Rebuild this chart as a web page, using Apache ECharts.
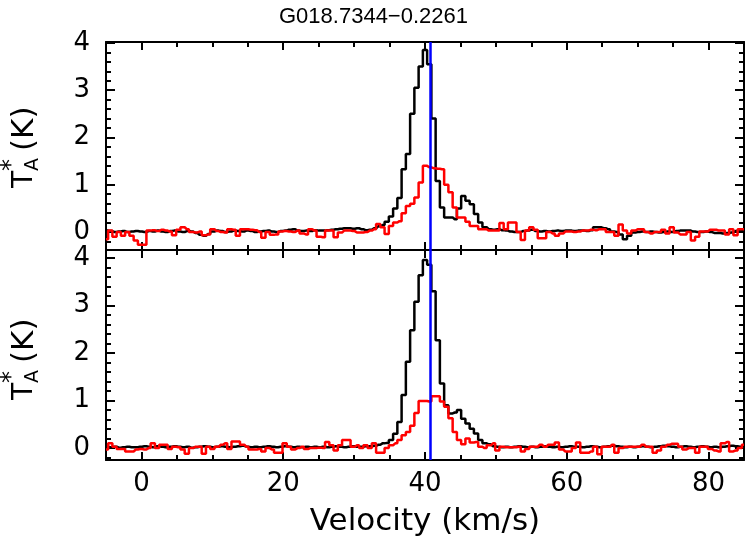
<!DOCTYPE html>
<html>
<head>
<meta charset="utf-8">
<script src="https://cdn.jsdelivr.net/npm/echarts@6/dist/echarts.min.js"></script>
<style>html,body{margin:0;padding:0;background:#fff}#c{width:747px;height:546px}</style>
</head>
<body>
<div id="c"></div>
<script>
// ---- data ----
const chartTitle = 'G018.7344\u22120.2261';
const chanStart = -5.0;   // km/s, first channel
const chanWidth = 0.6;    // km/s
const vlsr = 40.8;        // blue marker line

const topBlack = [
 0.03,0.02,0.00,0.01,0.02,0.00,0.01,0.02,0.01,0.00,
 0.02,0.01,0.03,0.01,0.00,0.02,0.03,0.01,0.00,0.02,
 0.01,-0.02,-0.06,-0.08,-0.04,0.01,0.03,0.02,0.00,0.01,
 0.03,0.02,0.01,0.03,0.02,0.00,0.01,0.02,0.03,0.01,
 0.00,0.02,0.03,0.05,0.06,0.03,0.02,0.03,0.02,0.04,
 0.03,0.03,0.04,0.05,0.06,0.07,0.08,0.08,0.07,0.08,
 0.06,0.04,0.05,0.08,0.12,0.15,0.22,0.33,0.50,0.72,
 1.33,1.65,2.50,3.05,3.50,3.85,3.55,2.40,1.08,0.52,
 0.31,0.31,0.27,0.50,0.76,0.66,0.59,0.38,0.20,0.10,
 0.06,0.05,0.06,0.04,0.03,0.01,0.00,0.00,0.02,0.03,
 0.05,0.02,0.01,0.02,0.01,0.02,0.03,0.02,0.03,0.03,
 0.02,0.03,0.03,0.02,0.04,0.10,0.10,0.08,0.06,0.01,
 0.00,-0.05,-0.15,-0.08,-0.01,0.00,0.01,0.00,0.01,0.00,
 -0.01,0.00,0.01,0.00,0.02,0.03,0.03,0.03,0.01,0.00,
 0.00,0.01,0.00,-0.02,-0.02,-0.03,-0.02,-0.01,0.02,0.03,0.03
];
const topRed = [
 -0.15,0.03,-0.10,0.00,-0.08,0.00,-0.08,-0.18,-0.27,-0.27,
 0.03,0.04,0.02,0.05,0.03,0.01,-0.07,0.05,0.10,0.06,
 0.00,-0.01,0.01,-0.07,-0.05,0.06,0.02,0.00,-0.01,0.06,
 0.05,-0.08,0.06,0.06,0.05,0.04,0.00,-0.12,0.00,-0.06,
 -0.05,0.01,0.02,0.01,0.00,0.03,-0.03,-0.05,0.06,0.03,
 -0.10,-0.11,0.03,0.03,-0.11,-0.01,0.03,0.03,0.02,-0.01,
 -0.01,0.00,0.03,0.06,0.17,0.10,-0.04,0.13,0.20,0.23,
 0.40,0.55,0.60,0.73,1.05,1.40,1.37,1.35,1.34,1.33,
 1.00,0.84,0.52,0.31,0.31,0.22,0.13,0.13,0.06,0.06,
 0.03,0.03,0.03,0.19,0.06,0.20,0.20,0.00,-0.17,0.03,
 0.10,0.05,-0.13,-0.13,0.00,-0.03,-0.08,-0.03,0.01,0.01,
 0.00,0.01,0.03,0.03,0.05,0.04,0.06,0.06,0.00,0.00,
 -0.08,0.16,0.03,-0.03,0.03,0.06,0.06,0.00,-0.03,0.00,
 0.00,0.05,-0.03,0.10,-0.01,-0.05,-0.05,0.00,-0.18,-0.10,
 0.01,0.01,0.05,0.05,0.03,0.03,-0.05,0.06,-0.07,0.06,0.06
];
const botBlack = [
 0.03,0.02,0.03,0.01,0.02,0.03,0.02,0.02,0.03,0.04,
 0.03,0.02,0.04,0.03,0.02,0.03,0.04,0.03,0.02,0.03,
 0.01,0.02,0.03,0.04,0.03,0.02,0.03,0.04,0.03,0.02,
 0.03,0.04,0.05,0.03,0.02,0.03,0.02,0.03,0.04,0.03,
 0.02,0.03,0.04,0.03,0.02,0.03,0.02,0.03,0.02,0.03,
 0.02,0.03,0.02,0.03,0.04,0.03,0.02,0.03,0.04,0.03,
 0.03,0.04,0.04,0.05,0.07,0.10,0.11,0.17,0.30,0.55,
 1.12,1.82,2.48,3.08,3.64,3.96,3.86,3.30,2.27,1.36,
 0.90,0.73,0.75,0.80,0.62,0.52,0.41,0.31,0.17,0.10,
 0.08,0.04,0.03,0.02,0.03,0.02,0.03,0.04,0.03,0.02,
 0.03,0.02,0.03,0.04,0.03,0.02,0.03,0.02,0.03,0.04,
 0.03,0.03,0.02,0.03,0.04,0.03,0.02,0.03,0.04,0.05,
 0.04,0.03,0.02,0.03,0.02,0.03,0.04,0.03,0.02,0.03,
 0.04,0.05,0.04,0.03,0.02,0.03,0.04,0.03,0.02,0.03,
 0.04,0.03,0.02,0.03,0.02,0.03,0.04,0.05,0.04,0.03,0.03
];
const botRed = [
 -0.03,0.10,0.03,-0.02,-0.02,-0.07,-0.07,-0.03,-0.02,-0.03,
 0.00,0.10,0.00,0.07,0.07,-0.02,0.03,0.02,-0.03,-0.12,
 0.00,0.03,0.03,-0.12,0.03,-0.02,0.03,0.07,0.10,-0.02,
 0.14,0.14,0.07,0.03,-0.03,-0.03,-0.02,-0.07,0.00,-0.03,
 -0.10,-0.10,0.10,0.03,-0.03,0.00,0.03,-0.02,0.00,0.00,
 0.01,0.00,0.13,0.06,-0.05,0.06,0.17,0.17,0.03,0.06,
 0.00,0.06,0.00,0.10,-0.10,-0.10,0.00,0.06,0.10,0.17,
 0.27,0.34,0.47,0.74,0.99,0.99,0.98,1.09,1.09,0.98,
 0.87,0.63,0.34,0.17,0.08,0.20,0.12,0.13,0.03,0.00,
 0.06,0.10,-0.05,0.03,0.02,0.02,0.02,0.03,-0.07,-0.02,
 0.03,0.03,0.07,0.03,0.07,0.07,0.12,-0.03,-0.07,-0.07,
 0.00,0.12,-0.10,-0.10,-0.07,0.03,-0.13,0.03,0.03,0.07,
 -0.10,0.00,0.03,0.03,0.03,0.03,0.07,0.03,0.03,-0.10,
 -0.05,0.03,0.07,0.09,0.09,0.03,-0.03,0.00,0.00,-0.10,
 0.03,0.03,-0.02,-0.05,-0.07,0.10,0.13,-0.07,-0.05,0.00,0.07
];

const xLabels = [0, 20, 40, 60, 80];
const xMajorTicks = [0, 20, 40, 60, 80];
const xMinorTicks = [-5, 5, 10, 15, 25, 30, 35, 45, 50, 55, 65, 70, 75, 85];
const yLabels = [0, 1, 2, 3, 4];
const yMajorTicks = [0, 1, 2, 3, 4];
const yMinorTicks = [-0.2, 0.2, 0.4, 0.6, 0.8, 1.2, 1.4, 1.6, 1.8, 2.2, 2.4, 2.6, 2.8, 3.2, 3.4, 3.6, 3.8, 4.0, 4.2];
const xName = 'Velocity (km/s)';

// ---- build ----
const FONT = '"DejaVu Sans", sans-serif';
const velocities = topBlack.map((_, i) => +(chanStart + i * chanWidth).toFixed(2));
const pairs = arr => arr.map((y, i) => [velocities[i], y]);

const xRange = { min: -5, max: 85 };
const yRanges = [{ min: -0.38, max: 4.02 }, { min: -0.25, max: 4.17 }];
const grids = [
  { left: 106, top: 42, width: 638, height: 208 },
  { left: 106, top: 250, width: 638, height: 210 }
];

const xAxes = [], yAxes = [];
grids.forEach((g, gi) => {
  const isBottom = gi === 1;
  [['bottom', true], ['top', false]].forEach(([pos, main]) => {
    [['major', xMajorTicks, 8], ['minor', xMinorTicks, 5]].forEach(([kind, ticks, len]) => {
      const lab = isBottom && main && kind === 'major';
      xAxes.push({
        gridIndex: gi, type: 'value', min: xRange.min, max: xRange.max, position: pos,
        axisLine: { show: kind === 'major', onZero: false, lineStyle: { color: '#000', width: 2 } },
        axisTick: { show: true, inside: true, length: len, customValues: ticks, lineStyle: { color: '#000', width: 2 } },
        axisLabel: { show: lab, customValues: xLabels, margin: 11,
          color: '#000', fontSize: 26, fontFamily: FONT },
        splitLine: { show: false },
        name: lab ? xName : '',
        nameLocation: 'middle', nameGap: 46,
        nameTextStyle: { color: '#000', fontSize: 31, fontFamily: FONT }
      });
    });
  });
  [['left', true], ['right', false]].forEach(([pos, main]) => {
    [['major', yMajorTicks, 9], ['minor', yMinorTicks, 5]].forEach(([kind, ticks, len]) => {
      yAxes.push({
        gridIndex: gi, type: 'value', min: yRanges[gi].min, max: yRanges[gi].max, position: pos,
        axisLine: { show: kind === 'major', onZero: false, lineStyle: { color: '#000', width: 2 } },
        axisTick: { show: true, inside: true, length: len,
          customValues: ticks.filter(t => t >= yRanges[gi].min && t <= yRanges[gi].max),
          lineStyle: { color: '#000', width: 2 } },
        axisLabel: { show: main && kind === 'major', customValues: yLabels, margin: 16,
          color: '#000', fontSize: 26, fontFamily: FONT },
        splitLine: { show: false }
      });
    });
  });
});

function lineSeries(arr, color, gi, z) {
  return {
    type: 'line', step: 'middle', data: pairs(arr), xAxisIndex: gi * 4, yAxisIndex: gi * 4,
    showSymbol: false, symbol: 'none', z: z, animation: false,
    lineStyle: { color: color, width: 2.5 }, itemStyle: { color: color }
  };
}
function markerSeries(gi) {
  return {
    type: 'line', data: [], xAxisIndex: gi * 4, yAxisIndex: gi * 4, z: 10, animation: false,
    markLine: { symbol: 'none', silent: true, animation: false, label: { show: false },
      lineStyle: { color: '#0000ff', width: 2.5, type: 'solid' }, data: [{ xAxis: vlsr }] }
  };
}

function yTitle(cy) {
  const t = (text, x, y, size) => ({ type: 'text', x: x, y: y,
    style: { text: text, font: size + 'px ' + FONT, fill: '#000', textAlign: 'left', textVerticalAlign: 'middle', align: 'left', verticalAlign: 'middle' } });
  return { type: 'group', x: 25, y: cy, rotation: Math.PI / 2, children: [
    t('T', -43, 0, 28), t('A', -26, 8, 19), t('*', -26, -13, 24), t('(K)', -6, 0, 31)
  ] };
}

const chart = echarts.init(document.getElementById('c'), null, { renderer: 'canvas' });
chart.setOption({
  animation: false,
  backgroundColor: '#fff',
  title: { text: chartTitle, left: 'center', top: 1,
    textStyle: { color: '#000', fontSize: 22, fontWeight: 'normal', fontFamily: '"Liberation Sans", sans-serif' } },
  grid: grids,
  xAxis: xAxes,
  yAxis: yAxes,
  series: [
    lineSeries(topBlack, '#000000', 0, 2), lineSeries(topRed, '#ff0000', 0, 3), markerSeries(0),
    lineSeries(botBlack, '#000000', 1, 2), lineSeries(botRed, '#ff0000', 1, 3), markerSeries(1)
  ],
  graphic: [yTitle(145), yTitle(357)]
});
</script>
</body>
</html>
